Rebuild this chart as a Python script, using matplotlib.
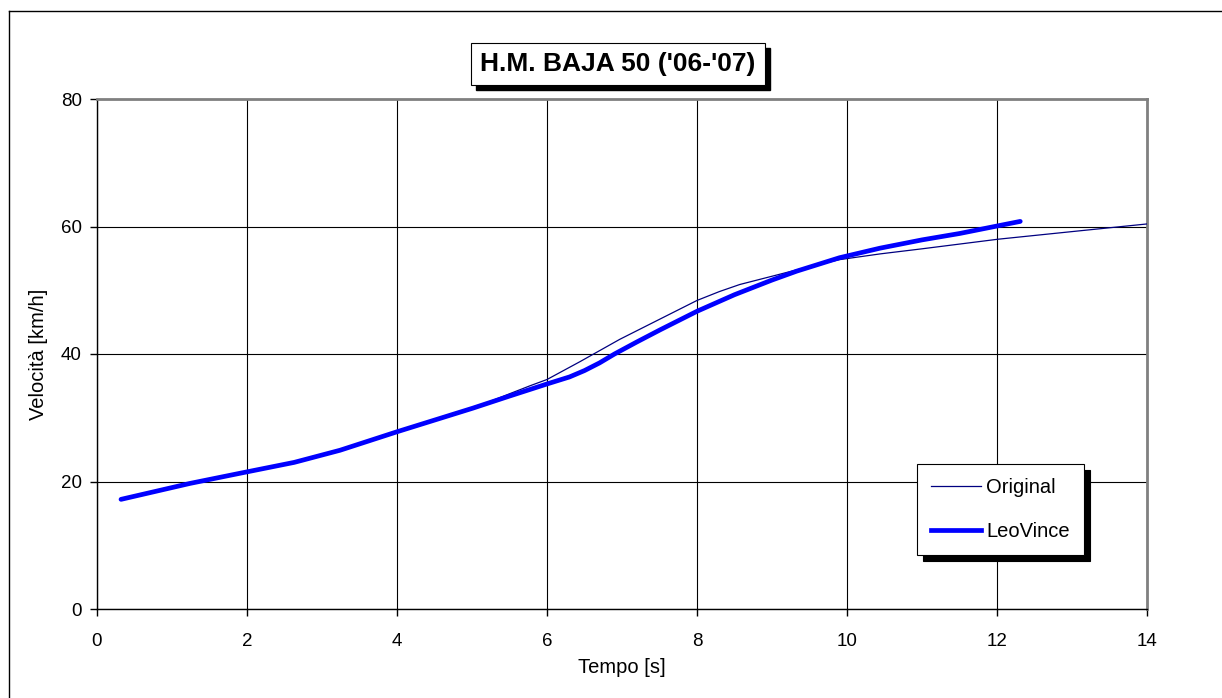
import matplotlib
matplotlib.use("Agg")
import matplotlib.pyplot as plt
from matplotlib.lines import Line2D
from matplotlib.patches import Rectangle

plt.rcParams['font.family'] = ['Liberation Sans', 'DejaVu Sans']

# values
orig_t = [0.32, 1.24, 1.91, 2.63, 3.24, 4.0, 5.01, 5.77, 6.0, 6.44, 6.97, 7.51, 8.0, 8.3, 8.57, 9.1, 9.33, 9.9, 10.44, 11.0, 12.01, 13.0, 14.0]
orig_v = [17.2, 19.7, 21.3, 23.0, 24.9, 27.8, 31.5, 35.0, 36.0, 38.8, 42.3, 45.5, 48.4, 49.8, 50.9, 52.5, 53.2, 54.8, 55.7, 56.5, 58.0, 59.2, 60.4]

leo_t = [0.32, 1.24, 1.91, 2.63, 3.24, 4.0, 5.01, 5.5, 6.0, 6.3, 6.5, 6.7, 6.9, 7.2, 7.51, 8.0, 8.5, 9.0, 9.33, 9.9, 10.44, 11.0, 11.5, 12.01, 12.31]
leo_v = [17.2, 19.7, 21.3, 23.0, 24.9, 27.8, 31.5, 33.4, 35.3, 36.4, 37.4, 38.6, 40.0, 41.9, 43.8, 46.7, 49.3, 51.6, 53.0, 55.1, 56.6, 57.9, 58.9, 60.1, 60.8]

x_ticks = [0, 2, 4, 6, 8, 10, 12, 14]
y_ticks = [0, 20, 40, 60, 80]

fig = plt.figure(figsize=(12.22, 6.98), dpi=100)
ax = fig.add_axes([97 / 1222, 1 - 609 / 698, 1050 / 1222, 510 / 698])

ax.plot(orig_t, orig_v, color='#000080', lw=0.9, label='Original', zorder=3)
ax.plot(leo_t, leo_v, color='#0000FF', lw=3.4, solid_capstyle='round', solid_joinstyle='round',
        label='LeoVince', zorder=4)

ax.set_xlim(0, 14)
ax.set_ylim(0, 80)
ax.set_xticks(x_ticks)
ax.set_yticks(y_ticks)
ax.grid(True, color='black', lw=0.8)
ax.set_axisbelow(True)
ax.tick_params(direction='out', length=5, width=1, labelsize=13.5, colors='black')
ax.tick_params(axis='x', pad=12)
ax.tick_params(axis='y', pad=6)
for side in ['top', 'right']:
    ax.spines[side].set_color('#808080')
    ax.spines[side].set_linewidth(2)
for side in ['left', 'bottom']:
    ax.spines[side].set_color('black')
    ax.spines[side].set_linewidth(1)

ax.set_xlabel('Tempo [s]', fontsize=14.5, labelpad=6)
ax.set_ylabel('Velocità [km/h]', fontsize=14.5, labelpad=9)

# legend with solid black shadow
handles = [Line2D([], [], color='#000080', lw=0.9), Line2D([], [], color='#0000FF', lw=3.4)]
leg = ax.legend(handles, ['Original', 'LeoVince'], loc='upper left',
                bbox_to_anchor=(917 / 1222, 1 - 464 / 698), bbox_transform=fig.transFigure,
                fontsize=14.5, frameon=True, fancybox=False, edgecolor='black',
                framealpha=1, handlelength=2.5, handletextpad=0.25, labelspacing=1.25,
                borderpad=0.7, borderaxespad=0,
                shadow={'color': 'black', 'alpha': 1, 'ox': 4, 'oy': -4})
leg.get_frame().set_linewidth(0.8)

# title box, shadow drawn as a rectangle behind it
title = 'H.M. BAJA 50 (\'06-\'07)'
ttl = fig.text(618 / 1222, 1 - 64 / 698, title, ha='center', va='center', fontsize=19,
               fontweight='bold', zorder=5,
               bbox=dict(boxstyle='square,pad=0.35', fc='white', ec='black', lw=0.8))
fig.canvas.draw()
bb = ttl.get_bbox_patch().get_window_extent()
fig.add_artist(Rectangle((bb.x0 + 5, bb.y0 - 5), bb.width, bb.height, transform=None,
                         fc='black', ec='black', zorder=4))

# outer border (top and left visible)
fig.add_artist(Line2D([9 / 1222, 1.0], [1 - 11 / 698, 1 - 11 / 698], color='black', lw=1,
                      transform=fig.transFigure))
fig.add_artist(Line2D([9 / 1222, 9 / 1222], [0.0, 1 - 11 / 698], color='black', lw=1,
                      transform=fig.transFigure))

fig.savefig('out.png', dpi=100)
plt.close(fig)
